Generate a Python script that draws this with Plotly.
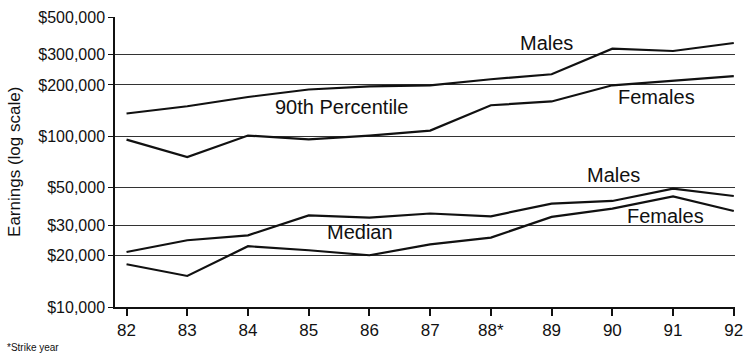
import plotly.graph_objects as go

years = [82, 83, 84, 85, 86, 87, 88, 89, 90, 91, 92]
year_labels = ["82", "83", "84", "85", "86", "87", "88*", "89", "90", "91", "92"]

p90_males = [136000, 150000, 170000, 188000, 196000, 199000, 216000, 231000, 326000, 316000, 352000]
p90_females = [95600, 75600, 101000, 96000, 101000, 108000, 152000, 160000, 199000, 211000, 225000]
median_males = [21000, 24600, 26300, 34400, 33400, 35300, 34000, 40300, 41800, 49400, 44700]
median_females = [17800, 15200, 22700, 21500, 20100, 23300, 25500, 33700, 37700, 44500, 36500]

y_ticks = [10000, 20000, 30000, 50000, 100000, 200000, 300000, 500000]
y_tick_labels = ["$10,000", "$20,000", "$30,000", "$50,000", "$100,000", "$200,000", "$300,000", "$500,000"]

FONT = "Liberation Sans, Arial, sans-serif"
INK = "#111111"

fig = go.Figure()
for series in [p90_males, p90_females, median_males, median_females]:
    fig.add_trace(go.Scatter(x=years, y=series, mode="lines",
                             line=dict(color=INK, width=2.2), showlegend=False,
                             hoverinfo="skip", cliponaxis=False))

labels = [
    ("Males", 88.92, 5.545),
    ("Females", 90.72, 5.229),
    ("90th Percentile", 85.54, 5.170),
    ("Median", 85.85, 4.438),
    ("Males", 90.02, 4.772),
    ("Females", 90.88, 4.531),
]
for text, x, y in labels:
    fig.add_annotation(x=x, y=y, text=text, showarrow=False,
                       font=dict(family=FONT, size=20, color=INK),
                       xanchor="center", yanchor="middle")

fig.add_annotation(xref="paper", yref="paper", x=-0.163, y=0.5,
                   text="Earnings (log scale)", textangle=-90, showarrow=False,
                   xanchor="center", yanchor="middle",
                   font=dict(family=FONT, size=17, color=INK))

fig.add_annotation(xref="paper", yref="paper", x=-0.177, y=-0.141,
                   text="*Strike year", showarrow=False, xanchor="left", yanchor="middle",
                   font=dict(family=FONT, size=10, color=INK))

fig.update_layout(
    width=745, height=363,
    margin=dict(l=115, r=10, t=17, b=56),
    paper_bgcolor="white", plot_bgcolor="white",
    font=dict(family=FONT, color=INK, size=15),
    xaxis=dict(range=[81.81, 92.02], tickvals=years, ticktext=year_labels,
               automargin=False, ticklabeloverflow="allow",
               showgrid=False, zeroline=False, showline=True, linecolor=INK, linewidth=1.5,
               ticks="outside", ticklen=7, tickwidth=1.5, tickcolor=INK,
               tickfont=dict(family=FONT, size=17, color=INK)),
    yaxis=dict(type="log", range=[4, 5.699], tickvals=y_ticks, ticktext=y_tick_labels,
               automargin=False,
               showgrid=True, gridcolor="#333333", gridwidth=1.3, zeroline=False,
               showline=True, linecolor=INK, linewidth=1.5,
               ticks="outside", ticklen=5, tickwidth=1.2, tickcolor=INK,
               tickfont=dict(family=FONT, size=16, color=INK)),
)

fig.write_html("out.html", config={"displayModeBar": False},
               post_script="document.body.style.margin='0';document.body.style.overflow='hidden';")
